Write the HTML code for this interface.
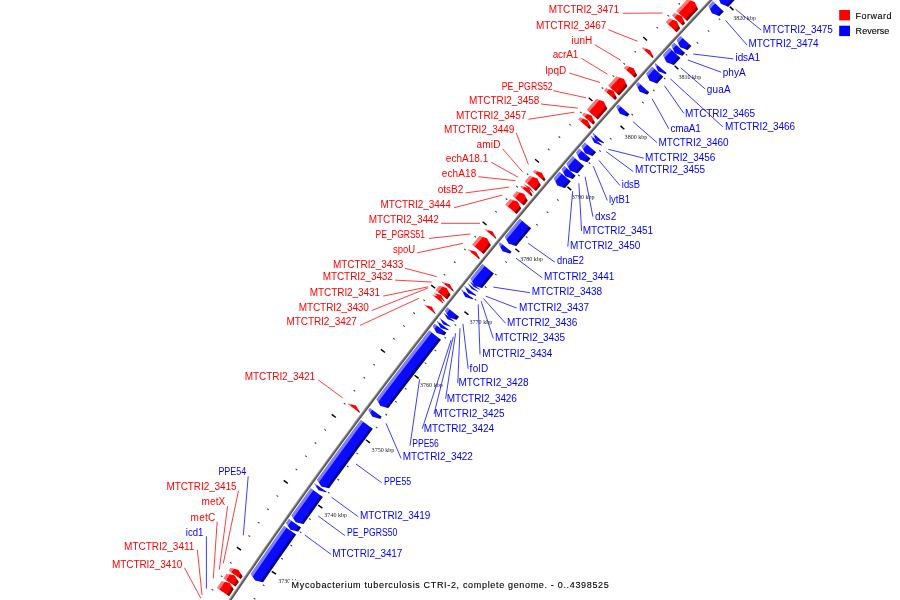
<!DOCTYPE html>
<html><head><meta charset="utf-8"><title>Mycobacterium tuberculosis CTRI-2 map</title>
<style>html,body{margin:0;padding:0;background:#fff;}svg{display:block;}</style></head>
<body>
<svg width="900" height="600" viewBox="0 0 900 600">
<rect width="900" height="600" fill="#fff"/>
<line x1="177.20" y1="644.72" x2="175.53" y2="643.62" stroke="#3a3a3a" stroke-width="1.05"/>
<line x1="210.50" y1="666.51" x2="208.83" y2="665.42" stroke="#3a3a3a" stroke-width="1.05"/>
<line x1="186.16" y1="631.09" x2="184.49" y2="629.99" stroke="#3a3a3a" stroke-width="1.05"/>
<line x1="219.38" y1="653.00" x2="217.71" y2="651.90" stroke="#3a3a3a" stroke-width="1.05"/>
<line x1="195.28" y1="617.58" x2="191.03" y2="614.76" stroke="#000" stroke-width="1.45"/>
<line x1="230.68" y1="641.10" x2="226.43" y2="638.28" stroke="#000" stroke-width="1.45"/>
<line x1="204.20" y1="603.93" x2="202.54" y2="602.82" stroke="#3a3a3a" stroke-width="1.05"/>
<line x1="237.27" y1="626.07" x2="235.61" y2="624.96" stroke="#3a3a3a" stroke-width="1.05"/>
<line x1="213.29" y1="590.40" x2="211.63" y2="589.28" stroke="#3a3a3a" stroke-width="1.05"/>
<line x1="246.29" y1="612.66" x2="244.63" y2="611.54" stroke="#3a3a3a" stroke-width="1.05"/>
<line x1="222.43" y1="576.90" x2="220.78" y2="575.78" stroke="#3a3a3a" stroke-width="1.05"/>
<line x1="255.35" y1="599.27" x2="253.70" y2="598.14" stroke="#3a3a3a" stroke-width="1.05"/>
<line x1="231.62" y1="563.43" x2="229.97" y2="562.30" stroke="#3a3a3a" stroke-width="1.05"/>
<line x1="264.46" y1="585.91" x2="262.81" y2="584.78" stroke="#3a3a3a" stroke-width="1.05"/>
<line x1="240.97" y1="550.08" x2="236.78" y2="547.18" stroke="#000" stroke-width="1.45"/>
<line x1="275.96" y1="574.21" x2="271.76" y2="571.31" stroke="#000" stroke-width="1.45"/>
<line x1="250.13" y1="536.59" x2="248.49" y2="535.45" stroke="#3a3a3a" stroke-width="1.05"/>
<line x1="282.82" y1="559.30" x2="281.17" y2="558.15" stroke="#3a3a3a" stroke-width="1.05"/>
<line x1="259.45" y1="523.21" x2="257.82" y2="522.07" stroke="#3a3a3a" stroke-width="1.05"/>
<line x1="292.06" y1="546.04" x2="290.42" y2="544.89" stroke="#3a3a3a" stroke-width="1.05"/>
<line x1="268.82" y1="509.87" x2="267.19" y2="508.72" stroke="#3a3a3a" stroke-width="1.05"/>
<line x1="301.35" y1="532.81" x2="299.72" y2="531.65" stroke="#3a3a3a" stroke-width="1.05"/>
<line x1="278.24" y1="496.56" x2="276.61" y2="495.41" stroke="#3a3a3a" stroke-width="1.05"/>
<line x1="310.69" y1="519.61" x2="309.06" y2="518.45" stroke="#3a3a3a" stroke-width="1.05"/>
<line x1="287.83" y1="483.38" x2="283.68" y2="480.41" stroke="#000" stroke-width="1.45"/>
<line x1="322.39" y1="508.10" x2="318.24" y2="505.14" stroke="#000" stroke-width="1.45"/>
<line x1="297.21" y1="470.05" x2="295.59" y2="468.88" stroke="#3a3a3a" stroke-width="1.05"/>
<line x1="329.50" y1="493.31" x2="327.88" y2="492.15" stroke="#3a3a3a" stroke-width="1.05"/>
<line x1="306.77" y1="456.84" x2="305.15" y2="455.66" stroke="#3a3a3a" stroke-width="1.05"/>
<line x1="338.98" y1="480.22" x2="337.36" y2="479.04" stroke="#3a3a3a" stroke-width="1.05"/>
<line x1="316.37" y1="443.66" x2="314.75" y2="442.48" stroke="#3a3a3a" stroke-width="1.05"/>
<line x1="348.50" y1="467.15" x2="346.88" y2="465.97" stroke="#3a3a3a" stroke-width="1.05"/>
<line x1="326.01" y1="430.51" x2="324.40" y2="429.33" stroke="#3a3a3a" stroke-width="1.05"/>
<line x1="358.06" y1="454.12" x2="356.45" y2="452.93" stroke="#3a3a3a" stroke-width="1.05"/>
<line x1="335.83" y1="417.49" x2="331.73" y2="414.45" stroke="#000" stroke-width="1.45"/>
<line x1="369.96" y1="442.81" x2="365.86" y2="439.78" stroke="#000" stroke-width="1.45"/>
<line x1="345.44" y1="404.33" x2="343.84" y2="403.13" stroke="#3a3a3a" stroke-width="1.05"/>
<line x1="377.32" y1="428.15" x2="375.72" y2="426.95" stroke="#3a3a3a" stroke-width="1.05"/>
<line x1="355.22" y1="391.28" x2="353.63" y2="390.08" stroke="#3a3a3a" stroke-width="1.05"/>
<line x1="387.02" y1="415.22" x2="385.43" y2="414.01" stroke="#3a3a3a" stroke-width="1.05"/>
<line x1="365.05" y1="378.27" x2="363.46" y2="377.07" stroke="#3a3a3a" stroke-width="1.05"/>
<line x1="396.77" y1="402.32" x2="395.17" y2="401.11" stroke="#3a3a3a" stroke-width="1.05"/>
<line x1="374.92" y1="365.30" x2="373.33" y2="364.08" stroke="#3a3a3a" stroke-width="1.05"/>
<line x1="406.55" y1="389.45" x2="404.97" y2="388.24" stroke="#3a3a3a" stroke-width="1.05"/>
<line x1="384.96" y1="352.45" x2="380.91" y2="349.34" stroke="#000" stroke-width="1.45"/>
<line x1="418.65" y1="378.36" x2="414.60" y2="375.25" stroke="#000" stroke-width="1.45"/>
<line x1="394.80" y1="339.45" x2="393.22" y2="338.23" stroke="#3a3a3a" stroke-width="1.05"/>
<line x1="426.26" y1="363.82" x2="424.68" y2="362.60" stroke="#3a3a3a" stroke-width="1.05"/>
<line x1="404.80" y1="326.58" x2="403.23" y2="325.35" stroke="#3a3a3a" stroke-width="1.05"/>
<line x1="436.18" y1="351.06" x2="434.61" y2="349.83" stroke="#3a3a3a" stroke-width="1.05"/>
<line x1="414.85" y1="313.74" x2="413.28" y2="312.50" stroke="#3a3a3a" stroke-width="1.05"/>
<line x1="446.15" y1="338.33" x2="444.58" y2="337.09" stroke="#3a3a3a" stroke-width="1.05"/>
<line x1="424.95" y1="300.94" x2="423.38" y2="299.70" stroke="#3a3a3a" stroke-width="1.05"/>
<line x1="456.16" y1="325.63" x2="454.59" y2="324.39" stroke="#3a3a3a" stroke-width="1.05"/>
<line x1="435.20" y1="288.26" x2="431.21" y2="285.08" stroke="#000" stroke-width="1.45"/>
<line x1="468.44" y1="314.75" x2="464.45" y2="311.57" stroke="#000" stroke-width="1.45"/>
<line x1="445.27" y1="275.44" x2="443.71" y2="274.18" stroke="#3a3a3a" stroke-width="1.05"/>
<line x1="476.31" y1="300.35" x2="474.75" y2="299.10" stroke="#3a3a3a" stroke-width="1.05"/>
<line x1="455.49" y1="262.74" x2="453.94" y2="261.48" stroke="#3a3a3a" stroke-width="1.05"/>
<line x1="486.45" y1="287.76" x2="484.89" y2="286.50" stroke="#3a3a3a" stroke-width="1.05"/>
<line x1="465.76" y1="250.08" x2="464.21" y2="248.81" stroke="#3a3a3a" stroke-width="1.05"/>
<line x1="496.63" y1="275.20" x2="495.08" y2="273.94" stroke="#3a3a3a" stroke-width="1.05"/>
<line x1="476.08" y1="237.45" x2="474.53" y2="236.18" stroke="#3a3a3a" stroke-width="1.05"/>
<line x1="506.86" y1="262.68" x2="505.31" y2="261.41" stroke="#3a3a3a" stroke-width="1.05"/>
<line x1="486.55" y1="224.95" x2="482.62" y2="221.71" stroke="#000" stroke-width="1.45"/>
<line x1="519.32" y1="252.01" x2="515.39" y2="248.76" stroke="#000" stroke-width="1.45"/>
<line x1="496.83" y1="212.30" x2="495.30" y2="211.03" stroke="#3a3a3a" stroke-width="1.05"/>
<line x1="527.44" y1="237.75" x2="525.90" y2="236.47" stroke="#3a3a3a" stroke-width="1.05"/>
<line x1="507.28" y1="199.79" x2="505.74" y2="198.50" stroke="#3a3a3a" stroke-width="1.05"/>
<line x1="537.80" y1="225.33" x2="536.26" y2="224.05" stroke="#3a3a3a" stroke-width="1.05"/>
<line x1="517.77" y1="187.30" x2="516.24" y2="186.01" stroke="#3a3a3a" stroke-width="1.05"/>
<line x1="548.19" y1="212.96" x2="546.67" y2="211.67" stroke="#3a3a3a" stroke-width="1.05"/>
<line x1="528.30" y1="174.86" x2="526.77" y2="173.56" stroke="#3a3a3a" stroke-width="1.05"/>
<line x1="558.64" y1="200.61" x2="557.11" y2="199.32" stroke="#3a3a3a" stroke-width="1.05"/>
<line x1="538.98" y1="162.54" x2="535.11" y2="159.23" stroke="#000" stroke-width="1.45"/>
<line x1="571.29" y1="190.16" x2="567.41" y2="186.85" stroke="#000" stroke-width="1.45"/>
<line x1="549.48" y1="150.07" x2="547.97" y2="148.77" stroke="#3a3a3a" stroke-width="1.05"/>
<line x1="579.65" y1="176.04" x2="578.13" y2="174.73" stroke="#3a3a3a" stroke-width="1.05"/>
<line x1="560.14" y1="137.74" x2="558.63" y2="136.43" stroke="#3a3a3a" stroke-width="1.05"/>
<line x1="590.21" y1="163.81" x2="588.70" y2="162.50" stroke="#3a3a3a" stroke-width="1.05"/>
<line x1="570.84" y1="125.44" x2="569.34" y2="124.12" stroke="#3a3a3a" stroke-width="1.05"/>
<line x1="600.83" y1="151.61" x2="599.32" y2="150.30" stroke="#3a3a3a" stroke-width="1.05"/>
<line x1="581.59" y1="113.17" x2="580.09" y2="111.85" stroke="#3a3a3a" stroke-width="1.05"/>
<line x1="611.48" y1="139.45" x2="609.98" y2="138.13" stroke="#3a3a3a" stroke-width="1.05"/>
<line x1="592.49" y1="101.05" x2="588.67" y2="97.67" stroke="#000" stroke-width="1.45"/>
<line x1="624.31" y1="129.22" x2="620.49" y2="125.84" stroke="#000" stroke-width="1.45"/>
<line x1="603.20" y1="88.76" x2="601.71" y2="87.43" stroke="#3a3a3a" stroke-width="1.05"/>
<line x1="632.91" y1="115.24" x2="631.42" y2="113.91" stroke="#3a3a3a" stroke-width="1.05"/>
<line x1="614.07" y1="76.61" x2="612.58" y2="75.27" stroke="#3a3a3a" stroke-width="1.05"/>
<line x1="643.69" y1="103.20" x2="642.20" y2="101.86" stroke="#3a3a3a" stroke-width="1.05"/>
<line x1="624.98" y1="64.49" x2="623.50" y2="63.15" stroke="#3a3a3a" stroke-width="1.05"/>
<line x1="654.51" y1="91.18" x2="653.03" y2="89.84" stroke="#3a3a3a" stroke-width="1.05"/>
<line x1="635.94" y1="52.42" x2="634.46" y2="51.07" stroke="#3a3a3a" stroke-width="1.05"/>
<line x1="665.37" y1="79.21" x2="663.89" y2="77.86" stroke="#3a3a3a" stroke-width="1.05"/>
<line x1="647.04" y1="40.48" x2="643.28" y2="37.04" stroke="#000" stroke-width="1.45"/>
<line x1="678.37" y1="69.20" x2="674.61" y2="65.75" stroke="#000" stroke-width="1.45"/>
<line x1="657.97" y1="28.38" x2="656.50" y2="27.03" stroke="#3a3a3a" stroke-width="1.05"/>
<line x1="687.22" y1="55.38" x2="685.75" y2="54.02" stroke="#3a3a3a" stroke-width="1.05"/>
<line x1="669.05" y1="16.42" x2="667.58" y2="15.06" stroke="#3a3a3a" stroke-width="1.05"/>
<line x1="698.20" y1="43.52" x2="696.74" y2="42.15" stroke="#3a3a3a" stroke-width="1.05"/>
<line x1="680.17" y1="4.50" x2="678.71" y2="3.13" stroke="#3a3a3a" stroke-width="1.05"/>
<line x1="709.23" y1="31.69" x2="707.77" y2="30.33" stroke="#3a3a3a" stroke-width="1.05"/>
<line x1="691.33" y1="-7.39" x2="689.87" y2="-8.76" stroke="#3a3a3a" stroke-width="1.05"/>
<line x1="720.29" y1="19.91" x2="718.84" y2="18.54" stroke="#3a3a3a" stroke-width="1.05"/>
<line x1="702.64" y1="-19.13" x2="698.94" y2="-22.64" stroke="#000" stroke-width="1.45"/>
<line x1="733.47" y1="10.13" x2="729.77" y2="6.61" stroke="#000" stroke-width="1.45"/>
<line x1="713.77" y1="-31.04" x2="712.33" y2="-32.42" stroke="#3a3a3a" stroke-width="1.05"/>
<line x1="742.55" y1="-3.54" x2="741.10" y2="-4.93" stroke="#3a3a3a" stroke-width="1.05"/>
<line x1="725.06" y1="-42.81" x2="723.62" y2="-44.19" stroke="#3a3a3a" stroke-width="1.05"/>
<line x1="753.74" y1="-15.21" x2="752.30" y2="-16.60" stroke="#3a3a3a" stroke-width="1.05"/>
<line x1="736.38" y1="-54.54" x2="734.95" y2="-55.93" stroke="#3a3a3a" stroke-width="1.05"/>
<line x1="764.97" y1="-26.84" x2="763.53" y2="-28.23" stroke="#3a3a3a" stroke-width="1.05"/>
<line x1="747.75" y1="-66.23" x2="746.31" y2="-67.62" stroke="#3a3a3a" stroke-width="1.05"/>
<line x1="776.24" y1="-38.43" x2="774.80" y2="-39.83" stroke="#3a3a3a" stroke-width="1.05"/>
<g font-family="'Liberation Serif', serif" font-size="6px" fill="#222">
<text x="233.2" y="650.1" textLength="22.8" lengthAdjust="spacingAndGlyphs">3720 kbp</text>
<text x="278.2" y="583.2" textLength="22.8" lengthAdjust="spacingAndGlyphs">3730 kbp</text>
<text x="324.3" y="517.0" textLength="22.8" lengthAdjust="spacingAndGlyphs">3740 kbp</text>
<text x="371.6" y="451.7" textLength="22.8" lengthAdjust="spacingAndGlyphs">3750 kbp</text>
<text x="420.0" y="387.2" textLength="22.8" lengthAdjust="spacingAndGlyphs">3760 kbp</text>
<text x="469.5" y="323.6" textLength="22.8" lengthAdjust="spacingAndGlyphs">3770 kbp</text>
<text x="520.2" y="260.8" textLength="22.8" lengthAdjust="spacingAndGlyphs">3780 kbp</text>
<text x="571.8" y="199.2" textLength="22.8" lengthAdjust="spacingAndGlyphs">3790 kbp</text>
<text x="624.6" y="138.5" textLength="22.8" lengthAdjust="spacingAndGlyphs">3800 kbp</text>
<text x="678.4" y="78.7" textLength="22.8" lengthAdjust="spacingAndGlyphs">3810 kbp</text>
<text x="733.2" y="19.9" textLength="22.8" lengthAdjust="spacingAndGlyphs">3820 kbp</text>
</g>
<polyline points="193.39,655.32 197.85,648.53 202.31,641.75 206.78,634.97 211.27,628.21 215.77,621.45 220.28,614.70 224.80,607.96 229.34,601.22 233.88,594.49 238.44,587.78 243.01,581.06 247.59,574.36 252.18,567.67 256.78,560.98 261.39,554.30 266.02,547.63 270.66,540.96 275.31,534.31 279.97,527.66 284.64,521.02 289.32,514.39 294.02,507.77 298.72,501.15 303.44,494.55 308.17,487.95 312.91,481.36 317.66,474.78 322.43,468.20 327.20,461.64 331.99,455.08 336.79,448.53 341.59,441.99 346.41,435.46 351.25,428.93 356.09,422.42 360.94,415.91 365.81,409.41 370.68,402.92 375.57,396.44 380.47,389.96 385.38,383.50 390.30,377.04 395.23,370.59 400.18,364.15 405.13,357.72 410.10,351.30 415.07,344.88 420.06,338.48 425.06,332.08 430.07,325.69 435.09,319.31 440.12,312.94 445.16,306.58 450.22,300.23 455.28,293.88 460.36,287.55 465.44,281.22 470.54,274.90 475.65,268.59 480.77,262.29 485.90,256.00 491.04,249.72 496.19,243.44 501.36,237.18 506.53,230.92 511.71,224.67 516.91,218.44 522.12,212.21 527.33,205.99 532.56,199.77 537.80,193.57 543.05,187.38 548.31,181.19 553.58,175.02 558.86,168.85 564.15,162.70 569.45,156.55 574.76,150.41 580.09,144.28 585.42,138.16 590.77,132.05 596.12,125.95 601.49,119.86 606.86,113.77 612.25,107.70 617.65,101.63 623.05,95.58 628.47,89.53 633.90,83.50 639.34,77.47 644.79,71.45 650.25,65.44 655.72,59.45 661.20,53.46 666.69,47.48 672.19,41.51 677.70,35.55 683.22,29.59 688.75,23.65 694.30,17.72 699.85,11.80 705.41,5.88 710.98,-0.02 716.57,-5.91 722.16,-11.80 727.76,-17.67 733.38,-23.54 739.00,-29.39 744.64,-35.24 750.28,-41.07 755.93,-46.90 761.60,-52.71 767.27,-58.52" fill="none" stroke="#777" stroke-width="2.7"/>
<polyline points="192.56,654.77 197.01,647.98 201.47,641.19 205.95,634.42 210.44,627.65 214.94,620.89 219.45,614.14 223.97,607.40 228.51,600.66 233.05,593.93 237.61,587.21 242.18,580.50 246.76,573.80 251.35,567.10 255.96,560.41 260.57,553.73 265.20,547.06 269.84,540.39 274.49,533.74 279.15,527.09 283.82,520.45 288.51,513.81 293.20,507.19 297.91,500.57 302.63,493.97 307.36,487.37 312.10,480.77 316.85,474.19 321.62,467.62 326.39,461.05 331.18,454.49 335.98,447.94 340.79,441.40 345.61,434.86 350.44,428.34 355.29,421.82 360.14,415.31 365.01,408.81 369.88,402.32 374.77,395.83 379.67,389.36 384.58,382.89 389.51,376.43 394.44,369.98 399.38,363.54 404.34,357.11 409.31,350.69 414.28,344.27 419.27,337.86 424.27,331.47 429.28,325.08 434.30,318.70 439.34,312.32 444.38,305.96 449.44,299.61 454.50,293.26 459.58,286.92 464.67,280.59 469.76,274.27 474.87,267.96 479.99,261.66 485.13,255.37 490.27,249.08 495.42,242.81 500.58,236.54 505.76,230.28 510.95,224.03 516.14,217.80 521.35,211.56 526.57,205.34 531.79,199.13 537.03,192.93 542.28,186.73 547.54,180.55 552.82,174.37 558.10,168.20 563.39,162.04 568.69,155.90 574.01,149.76 579.33,143.63 584.67,137.50 590.01,131.39 595.37,125.29 600.74,119.19 606.11,113.11 611.50,107.04 616.90,100.97 622.31,94.91 627.73,88.87 633.16,82.83 638.60,76.80 644.05,70.78 649.51,64.77 654.98,58.77 660.46,52.78 665.95,46.80 671.45,40.83 676.97,34.87 682.49,28.91 688.02,22.97 693.57,17.04 699.12,11.11 704.68,5.20 710.26,-0.71 715.84,-6.60 721.44,-12.49 727.04,-18.36 732.66,-24.23 738.28,-30.08 743.92,-35.93 749.56,-41.77 755.22,-47.60 760.88,-53.41 766.56,-59.22" fill="none" stroke="#fff" stroke-opacity="0.3" stroke-width="0.9"/>
<polyline points="193.90,655.64 198.35,648.86 202.81,642.08 207.28,635.30 211.77,628.54 216.27,621.78 220.78,615.03 225.30,608.29 229.83,601.56 234.38,594.83 238.93,588.11 243.50,581.40 248.08,574.70 252.67,568.01 257.27,561.32 261.89,554.64 266.51,547.97 271.15,541.31 275.80,534.65 280.46,528.01 285.13,521.37 289.81,514.74 294.51,508.12 299.21,501.50 303.93,494.90 308.66,488.30 313.40,481.71 318.15,475.13 322.91,468.55 327.69,461.99 332.47,455.43 337.27,448.89 342.08,442.35 346.90,435.81 351.73,429.29 356.57,422.77 361.42,416.27 366.29,409.77 371.16,403.28 376.05,396.80 380.95,390.33 385.86,383.86 390.78,377.41 395.71,370.96 400.65,364.52 405.61,358.09 410.57,351.67 415.55,345.25 420.53,338.85 425.53,332.45 430.54,326.07 435.56,319.69 440.59,313.32 445.63,306.95 450.69,300.60 455.75,294.26 460.83,287.92 465.91,281.60 471.01,275.28 476.12,268.97 481.24,262.67 486.37,256.38 491.51,250.10 496.66,243.82 501.82,237.56 506.99,231.30 512.18,225.06 517.37,218.82 522.58,212.59 527.79,206.37 533.02,200.16 538.26,193.96 543.50,187.77 548.76,181.58 554.03,175.41 559.31,169.24 564.60,163.09 569.90,156.94 575.22,150.80 580.54,144.68 585.87,138.56 591.22,132.45 596.57,126.34 601.94,120.25 607.31,114.17 612.70,108.10 618.09,102.03 623.50,95.98 628.92,89.93 634.35,83.90 639.78,77.87 645.23,71.86 650.69,65.85 656.16,59.85 661.64,53.86 667.13,47.88 672.63,41.91 678.14,35.95 683.66,30.00 689.19,24.06 694.73,18.13 700.29,12.21 705.85,6.30 711.42,0.39 717.00,-5.50 722.60,-11.38 728.20,-17.26 733.81,-23.12 739.43,-28.98 745.07,-34.82 750.71,-40.65 756.36,-46.48 762.03,-52.30 767.70,-58.10" fill="none" stroke="#000" stroke-opacity="0.3" stroke-width="1.1"/>
<polygon points="216.98,587.97 221.60,581.16 229.33,582.77 233.68,589.35 229.08,596.15" fill="#ff0000"/>
<polygon points="216.98,587.97 221.60,581.16 224.88,581.84 219.55,589.71" fill="#fff" fill-opacity="0.47"/>
<polygon points="232.07,586.92 233.68,589.35 229.08,596.15 226.84,594.64" fill="#000" fill-opacity="0.45"/>
<polygon points="223.47,578.40 226.68,573.68 234.41,575.30 238.75,581.89 235.55,586.60" fill="#ff0000"/>
<polygon points="223.47,578.40 226.68,573.68 229.96,574.36 226.04,580.14" fill="#fff" fill-opacity="0.47"/>
<polygon points="237.14,579.46 238.75,581.89 235.55,586.60 233.32,585.08" fill="#000" fill-opacity="0.45"/>
<polygon points="228.74,570.65 230.54,568.02 238.26,569.66 242.59,576.26 240.81,578.88" fill="#ff0000"/>
<polygon points="228.74,570.65 230.54,568.02 233.82,568.71 231.31,572.40" fill="#fff" fill-opacity="0.47"/>
<polygon points="240.99,573.82 242.59,576.26 240.81,578.88 238.58,577.35" fill="#000" fill-opacity="0.45"/>
<polygon points="347.88,403.91 348.22,403.45 355.87,405.41 359.91,412.19 359.57,412.65" fill="#ff0000"/>
<polygon points="347.88,403.91 348.22,403.45 351.47,404.28 350.36,405.76" fill="#fff" fill-opacity="0.47"/>
<polygon points="358.42,409.69 359.91,412.19 359.57,412.65 357.41,411.04" fill="#000" fill-opacity="0.45"/>
<polygon points="424.01,304.87 424.16,304.67 431.75,306.84 435.62,313.72 435.46,313.92" fill="#ff0000"/>
<polygon points="424.01,304.87 424.16,304.67 427.38,305.59 426.44,306.79" fill="#fff" fill-opacity="0.47"/>
<polygon points="434.19,311.18 435.62,313.72 435.46,313.92 433.34,312.25" fill="#000" fill-opacity="0.45"/>
<polygon points="432.00,294.78 432.10,294.65 439.69,296.83 443.54,303.73 443.43,303.86" fill="#ff0000"/>
<polygon points="432.00,294.78 432.10,294.65 435.33,295.57 434.43,296.71" fill="#fff" fill-opacity="0.47"/>
<polygon points="442.11,301.18 443.54,303.73 443.43,303.86 441.32,302.18" fill="#000" fill-opacity="0.45"/>
<polygon points="433.47,292.93 441.11,295.05 444.90,302.01" fill="#ff0000"/>
<polygon points="433.47,292.93 436.72,293.83 435.90,294.86" fill="#fff" fill-opacity="0.47"/>
<polygon points="443.50,299.44 444.90,302.01 442.78,300.33" fill="#000" fill-opacity="0.45"/>
<polygon points="435.60,290.25 439.11,285.85 446.69,288.06 450.52,294.96 447.02,299.34" fill="#ff0000"/>
<polygon points="435.60,290.25 439.11,285.85 442.33,286.79 438.03,292.18" fill="#fff" fill-opacity="0.47"/>
<polygon points="449.10,292.41 450.52,294.96 447.02,299.34 444.91,297.66" fill="#000" fill-opacity="0.45"/>
<polygon points="441.91,282.35 442.21,281.97 449.79,284.18 453.61,291.09 453.31,291.47" fill="#ff0000"/>
<polygon points="441.91,282.35 442.21,281.97 445.43,282.91 444.33,284.29" fill="#fff" fill-opacity="0.47"/>
<polygon points="452.20,288.53 453.61,291.09 453.31,291.47 451.20,289.78" fill="#000" fill-opacity="0.45"/>
<polygon points="468.06,249.95 468.47,249.44 476.03,251.72 479.79,258.66 479.38,259.17" fill="#ff0000"/>
<polygon points="468.06,249.95 468.47,249.44 471.68,250.41 470.46,251.91" fill="#fff" fill-opacity="0.47"/>
<polygon points="478.40,256.10 479.79,258.66 479.38,259.17 477.29,257.46" fill="#000" fill-opacity="0.45"/>
<polygon points="472.33,244.71 479.51,235.94 487.06,238.25 490.80,245.21 483.64,253.94" fill="#ff0000"/>
<polygon points="472.33,244.71 479.51,235.94 482.72,236.92 474.73,246.67" fill="#fff" fill-opacity="0.47"/>
<polygon points="489.42,242.63 490.80,245.21 483.64,253.94 481.55,252.24" fill="#000" fill-opacity="0.45"/>
<polygon points="484.74,229.59 485.05,229.21 492.60,231.53 496.32,238.49 496.01,238.87" fill="#ff0000"/>
<polygon points="484.74,229.59 485.05,229.21 488.26,230.19 487.13,231.56" fill="#fff" fill-opacity="0.47"/>
<polygon points="494.94,235.92 496.32,238.49 496.01,238.87 493.92,237.15" fill="#000" fill-opacity="0.45"/>
<polygon points="505.39,204.69 510.00,199.19 517.52,201.57 521.19,208.56 516.60,214.05" fill="#ff0000"/>
<polygon points="505.39,204.69 510.00,199.19 513.19,200.20 507.77,206.68" fill="#fff" fill-opacity="0.47"/>
<polygon points="519.83,205.98 521.19,208.56 516.60,214.05 514.53,212.32" fill="#000" fill-opacity="0.45"/>
<polygon points="512.67,196.01 516.50,191.45 524.02,193.85 527.67,200.85 523.85,205.39" fill="#ff0000"/>
<polygon points="512.67,196.01 516.50,191.45 519.69,192.47 515.04,198.00" fill="#fff" fill-opacity="0.47"/>
<polygon points="526.32,198.26 527.67,200.85 523.85,205.39 521.78,203.66" fill="#000" fill-opacity="0.45"/>
<polygon points="520.48,186.72 521.33,185.72 528.85,188.13 532.48,195.14 531.64,196.13" fill="#ff0000"/>
<polygon points="520.48,186.72 521.33,185.72 524.52,186.74 522.85,188.72" fill="#fff" fill-opacity="0.47"/>
<polygon points="531.14,192.55 532.48,195.14 531.64,196.13 529.58,194.39" fill="#000" fill-opacity="0.45"/>
<polygon points="522.90,183.85 529.63,187.20 534.05,193.28" fill="#ff0000"/>
<polygon points="522.90,183.85 525.76,185.27 525.27,185.85" fill="#fff" fill-opacity="0.47"/>
<polygon points="532.42,191.03 534.05,193.28 531.99,191.53" fill="#000" fill-opacity="0.45"/>
<polygon points="524.80,181.61 529.65,175.89 537.16,178.32 540.78,185.34 535.94,191.04" fill="#ff0000"/>
<polygon points="524.80,181.61 529.65,175.89 532.84,176.92 527.16,183.62" fill="#fff" fill-opacity="0.47"/>
<polygon points="539.44,182.75 540.78,185.34 535.94,191.04 533.88,189.30" fill="#000" fill-opacity="0.45"/>
<polygon points="533.07,171.86 534.34,170.37 541.85,172.81 545.46,179.83 544.19,181.32" fill="#ff0000"/>
<polygon points="533.07,171.86 534.34,170.37 537.53,171.40 535.44,173.87" fill="#fff" fill-opacity="0.47"/>
<polygon points="544.12,177.24 545.46,179.83 544.19,181.32 542.14,179.57" fill="#000" fill-opacity="0.45"/>
<polygon points="578.40,119.38 579.96,117.60 587.43,120.15 590.94,127.23 589.38,129.00" fill="#ff0000"/>
<polygon points="578.40,119.38 579.96,117.60 583.14,118.68 580.73,121.42" fill="#fff" fill-opacity="0.47"/>
<polygon points="589.64,124.61 590.94,127.23 589.38,129.00 587.35,127.22" fill="#000" fill-opacity="0.45"/>
<polygon points="582.27,114.97 584.00,113.01 591.46,115.57 594.96,122.65 593.24,124.61" fill="#ff0000"/>
<polygon points="582.27,114.97 584.00,113.01 587.17,114.10 584.60,117.01" fill="#fff" fill-opacity="0.47"/>
<polygon points="593.67,120.03 594.96,122.65 593.24,124.61 591.21,122.82" fill="#000" fill-opacity="0.45"/>
<polygon points="586.85,109.77 596.35,99.02 603.81,101.62 607.27,108.71 597.80,119.42" fill="#ff0000"/>
<polygon points="586.85,109.77 596.35,99.02 599.52,100.12 589.17,111.82" fill="#fff" fill-opacity="0.47"/>
<polygon points="605.99,106.09 607.27,108.71 597.80,119.42 595.78,117.64" fill="#000" fill-opacity="0.45"/>
<polygon points="604.20,90.19 605.94,88.24 613.39,90.86 616.83,97.97 615.10,99.91" fill="#ff0000"/>
<polygon points="604.20,90.19 605.94,88.24 609.10,89.36 606.51,92.26" fill="#fff" fill-opacity="0.47"/>
<polygon points="615.56,95.34 616.83,97.97 615.10,99.91 613.08,98.11" fill="#000" fill-opacity="0.45"/>
<polygon points="608.16,85.76 616.54,76.41 623.98,79.05 627.40,86.16 619.05,95.48" fill="#ff0000"/>
<polygon points="608.16,85.76 616.54,76.41 619.70,77.53 610.47,87.82" fill="#fff" fill-opacity="0.47"/>
<polygon points="626.13,83.53 627.40,86.16 619.05,95.48 617.03,93.69" fill="#000" fill-opacity="0.45"/>
<polygon points="624.06,68.05 626.25,65.63 633.68,68.30 637.08,75.42 634.90,77.84" fill="#ff0000"/>
<polygon points="624.06,68.05 626.25,65.63 629.40,66.76 626.36,70.13" fill="#fff" fill-opacity="0.47"/>
<polygon points="635.82,72.79 637.08,75.42 634.90,77.84 632.89,76.03" fill="#000" fill-opacity="0.45"/>
<polygon points="642.03,48.26 642.74,47.48 650.16,50.18 653.52,57.33 652.81,58.11" fill="#ff0000"/>
<polygon points="642.03,48.26 642.74,47.48 645.89,48.63 644.32,50.35" fill="#fff" fill-opacity="0.47"/>
<polygon points="652.28,54.68 653.52,57.33 652.81,58.11 650.81,56.29" fill="#000" fill-opacity="0.45"/>
<polygon points="665.91,22.30 669.41,18.53 676.80,21.30 680.11,28.47 676.62,32.22" fill="#ff0000"/>
<polygon points="665.91,22.30 669.41,18.53 672.55,19.70 668.19,24.40" fill="#fff" fill-opacity="0.47"/>
<polygon points="678.88,25.82 680.11,28.47 676.62,32.22 674.64,30.39" fill="#000" fill-opacity="0.45"/>
<polygon points="672.13,15.61 674.29,13.28 681.69,16.06 684.98,23.23 682.81,25.55" fill="#ff0000"/>
<polygon points="672.13,15.61 674.29,13.28 677.43,14.46 674.40,17.72" fill="#fff" fill-opacity="0.47"/>
<polygon points="683.76,20.58 684.98,23.23 682.81,25.55 680.84,23.72" fill="#000" fill-opacity="0.45"/>
<polygon points="676.46,10.96 687.38,-0.70 694.76,2.10 698.02,9.29 687.13,20.92" fill="#ff0000"/>
<polygon points="676.46,10.96 687.38,-0.70 690.51,0.49 678.73,13.07" fill="#fff" fill-opacity="0.47"/>
<polygon points="696.81,6.63 698.02,9.29 687.13,20.92 685.16,19.08" fill="#000" fill-opacity="0.45"/>
<polygon points="283.99,526.03 275.63,537.95 267.30,549.90 259.01,561.88 250.76,573.88 255.17,580.54 262.97,582.25 271.19,570.28 279.46,558.34 287.76,546.43 296.09,534.54" fill="#0a0aff"/>
<polygon points="283.99,526.03 275.63,537.95 267.30,549.90 259.01,561.88 250.76,573.88 252.61,576.67 261.03,564.42 269.49,552.19 277.99,539.99 286.53,527.81" fill="#fff" fill-opacity="0.47"/>
<polygon points="260.12,581.62 262.97,582.25 271.19,570.28 279.46,558.34 287.76,546.43 296.09,534.54 293.89,532.99 285.39,545.11 276.93,557.25 268.51,569.43" fill="#000" fill-opacity="0.45"/>
<polygon points="288.90,519.06 286.09,523.04 290.42,529.75 298.19,531.57 300.99,527.60" fill="#0a0aff"/>
<polygon points="288.90,519.06 286.09,523.04 287.90,525.86 291.43,520.85" fill="#fff" fill-opacity="0.47"/>
<polygon points="295.35,530.91 298.19,531.57 300.99,527.60 298.78,526.04" fill="#000" fill-opacity="0.45"/>
<polygon points="310.79,488.33 301.08,501.89 291.43,515.49 295.74,522.21 303.51,524.04 313.13,510.48 322.81,496.97" fill="#0a0aff"/>
<polygon points="310.79,488.33 301.08,501.89 291.43,515.49 293.23,518.30 303.24,504.20 313.31,490.14" fill="#fff" fill-opacity="0.47"/>
<polygon points="300.67,523.37 303.51,524.04 313.13,510.48 322.81,496.97 320.62,495.39 310.62,509.36" fill="#000" fill-opacity="0.45"/>
<polygon points="314.49,483.19 314.20,483.59 318.46,490.35 326.21,492.24 326.50,491.84" fill="#0a0aff"/>
<polygon points="314.49,483.19 314.20,483.59 315.98,486.42 317.00,485.01" fill="#fff" fill-opacity="0.47"/>
<polygon points="323.38,491.55 326.21,492.24 326.50,491.84 324.30,490.27" fill="#000" fill-opacity="0.45"/>
<polygon points="360.88,419.92 353.51,429.82 346.17,439.75 338.85,449.69 331.55,459.66 324.29,469.64 317.05,479.64 321.30,486.40 329.05,488.31 336.27,478.33 343.51,468.38 350.78,458.45 358.07,448.54 365.40,438.64 372.74,428.77" fill="#0a0aff"/>
<polygon points="360.88,419.92 353.51,429.82 346.17,439.75 338.85,449.69 331.55,459.66 324.29,469.64 317.05,479.64 318.83,482.47 326.18,472.31 333.57,462.16 340.98,452.03 348.41,441.93 355.88,431.84 363.37,421.77" fill="#fff" fill-opacity="0.47"/>
<polygon points="326.22,487.61 329.05,488.31 336.27,478.33 343.51,468.38 350.78,458.45 358.07,448.54 365.40,438.64 372.74,428.77 370.58,427.15 363.12,437.18 355.69,447.23 348.28,457.29 340.90,467.38 333.55,477.48" fill="#000" fill-opacity="0.45"/>
<polygon points="369.83,407.96 368.37,409.91 372.49,416.75 380.21,418.80 381.66,416.85" fill="#0a0aff"/>
<polygon points="369.83,407.96 368.37,409.91 370.09,412.78 372.31,409.83" fill="#fff" fill-opacity="0.47"/>
<polygon points="377.39,418.05 380.21,418.80 381.66,416.85 379.51,415.23" fill="#000" fill-opacity="0.45"/>
<polygon points="429.21,330.59 421.60,340.33 414.01,350.08 406.45,359.86 398.92,369.65 391.41,379.46 383.92,389.30 376.47,399.15 380.57,406.00 388.28,408.07 395.71,398.25 403.17,388.44 410.66,378.66 418.17,368.90 425.71,359.15 433.27,349.43 440.86,339.73" fill="#0a0aff"/>
<polygon points="429.21,330.59 421.60,340.33 414.01,350.08 406.45,359.86 398.92,369.65 391.41,379.46 383.92,389.30 376.47,399.15 378.18,402.02 385.74,392.03 393.33,382.06 400.94,372.11 408.58,362.18 416.24,352.27 423.93,342.38 431.65,332.51" fill="#fff" fill-opacity="0.47"/>
<polygon points="385.47,407.31 388.28,408.07 395.71,398.25 403.17,388.44 410.66,378.66 418.17,368.90 425.71,359.15 433.27,349.43 440.86,339.73 438.73,338.06 431.04,347.89 423.38,357.74 415.75,367.62 408.14,377.51 400.55,387.42 393.00,397.36" fill="#000" fill-opacity="0.45"/>
<polygon points="434.63,323.70 432.72,326.13 436.68,333.06 444.35,335.27 446.25,332.86" fill="#0a0aff"/>
<polygon points="434.63,323.70 432.72,326.13 434.38,329.03 437.06,325.62" fill="#fff" fill-opacity="0.47"/>
<polygon points="441.55,334.46 444.35,335.27 446.25,332.86 444.13,331.19" fill="#000" fill-opacity="0.45"/>
<polygon points="437.04,320.64 436.78,320.96 440.74,327.90 448.40,330.13 448.66,329.81" fill="#0a0aff"/>
<polygon points="437.04,320.64 436.78,320.96 438.44,323.87 439.47,322.56" fill="#fff" fill-opacity="0.47"/>
<polygon points="445.61,329.31 448.40,330.13 448.66,329.81 446.54,328.13" fill="#000" fill-opacity="0.45"/>
<polygon points="439.40,317.65 443.45,324.46 451.01,326.82" fill="#0a0aff"/>
<polygon points="439.40,317.65 441.09,320.50 441.83,319.57" fill="#fff" fill-opacity="0.47"/>
<polygon points="448.25,325.96 451.01,326.82 448.89,325.15" fill="#000" fill-opacity="0.45"/>
<polygon points="443.37,312.62 447.62,319.18 454.98,321.81" fill="#0a0aff"/>
<polygon points="443.37,312.62 445.15,315.37 445.80,314.55" fill="#fff" fill-opacity="0.47"/>
<polygon points="452.29,320.85 454.98,321.81 452.86,320.13" fill="#000" fill-opacity="0.45"/>
<polygon points="447.36,307.60 444.93,310.65 448.87,317.60 456.53,319.85 458.95,316.80" fill="#0a0aff"/>
<polygon points="447.36,307.60 444.93,310.65 446.58,313.56 449.79,309.53" fill="#fff" fill-opacity="0.47"/>
<polygon points="453.74,319.02 456.53,319.85 458.95,316.80 456.83,315.12" fill="#000" fill-opacity="0.45"/>
<polygon points="461.78,289.52 461.43,289.97 465.33,296.94 472.97,299.23 473.33,298.79" fill="#0a0aff"/>
<polygon points="461.78,289.52 461.43,289.97 463.06,292.89 464.20,291.46" fill="#fff" fill-opacity="0.47"/>
<polygon points="470.18,298.39 472.97,299.23 473.33,298.79 471.22,297.10" fill="#000" fill-opacity="0.45"/>
<polygon points="464.68,285.92 464.32,286.36 468.22,293.33 475.86,295.64 476.22,295.19" fill="#0a0aff"/>
<polygon points="464.68,285.92 464.32,286.36 465.95,289.28 467.10,287.86" fill="#fff" fill-opacity="0.47"/>
<polygon points="473.07,294.80 475.86,295.64 476.22,295.19 474.11,293.50" fill="#000" fill-opacity="0.45"/>
<polygon points="467.17,282.82 471.72,288.98 478.70,292.10" fill="#0a0aff"/>
<polygon points="467.17,282.82 469.08,285.40 469.59,284.77" fill="#fff" fill-opacity="0.47"/>
<polygon points="476.15,290.96 478.70,292.10 476.60,290.41" fill="#000" fill-opacity="0.45"/>
<polygon points="468.96,280.61 473.55,286.71 480.48,289.90" fill="#0a0aff"/>
<polygon points="468.96,280.61 470.88,283.16 471.37,282.56" fill="#fff" fill-opacity="0.47"/>
<polygon points="477.95,288.73 480.48,289.90 478.37,288.20" fill="#000" fill-opacity="0.45"/>
<polygon points="482.34,264.09 470.53,278.65 474.41,285.63 482.05,287.95 493.82,273.43" fill="#0a0aff"/>
<polygon points="482.34,264.09 470.53,278.65 472.16,281.58 484.74,266.05" fill="#fff" fill-opacity="0.47"/>
<polygon points="479.26,287.10 482.05,287.95 493.82,273.43 491.72,271.73" fill="#000" fill-opacity="0.45"/>
<polygon points="500.07,242.43 498.68,244.12 502.49,251.14 510.10,253.53 511.49,251.84" fill="#0a0aff"/>
<polygon points="500.07,242.43 498.68,244.12 500.27,247.06 502.46,244.40" fill="#fff" fill-opacity="0.47"/>
<polygon points="507.33,252.66 510.10,253.53 511.49,251.84 509.41,250.12" fill="#000" fill-opacity="0.45"/>
<polygon points="519.75,218.70 504.82,236.67 508.62,243.70 516.23,246.10 531.11,228.18" fill="#0a0aff"/>
<polygon points="519.75,218.70 504.82,236.67 506.41,239.62 514.26,230.14 522.13,220.68" fill="#fff" fill-opacity="0.47"/>
<polygon points="513.45,245.22 516.23,246.10 531.11,228.18 529.04,226.45 521.23,235.83" fill="#000" fill-opacity="0.45"/>
<polygon points="559.48,171.74 553.73,178.46 557.41,185.55 564.98,188.07 570.71,181.37" fill="#0a0aff"/>
<polygon points="559.48,171.74 553.73,178.46 555.27,181.43 561.83,173.76" fill="#fff" fill-opacity="0.47"/>
<polygon points="562.22,187.15 564.98,188.07 570.71,181.37 568.66,179.61" fill="#000" fill-opacity="0.45"/>
<polygon points="564.34,166.08 561.59,169.28 565.25,176.37 572.82,178.92 575.56,175.73" fill="#0a0aff"/>
<polygon points="564.34,166.08 561.59,169.28 563.12,172.25 566.69,168.10" fill="#fff" fill-opacity="0.47"/>
<polygon points="570.06,177.99 572.82,178.92 575.56,175.73 573.52,173.97" fill="#000" fill-opacity="0.45"/>
<polygon points="572.77,156.31 566.40,163.68 570.06,170.78 577.62,173.34 583.96,165.99" fill="#0a0aff"/>
<polygon points="572.77,156.31 566.40,163.68 567.93,166.65 575.11,158.33" fill="#fff" fill-opacity="0.47"/>
<polygon points="574.86,172.40 577.62,173.34 583.96,165.99 581.92,164.22" fill="#000" fill-opacity="0.45"/>
<polygon points="579.25,148.82 576.11,152.44 579.74,159.55 587.29,162.14 590.43,158.53" fill="#0a0aff"/>
<polygon points="579.25,148.82 576.11,152.44 577.63,155.42 581.59,150.86" fill="#fff" fill-opacity="0.47"/>
<polygon points="584.54,161.19 587.29,162.14 590.43,158.53 588.39,156.76" fill="#000" fill-opacity="0.45"/>
<polygon points="584.79,142.46 581.48,146.26 585.10,153.37 592.65,155.97 595.95,152.18" fill="#0a0aff"/>
<polygon points="584.79,142.46 581.48,146.26 583.00,149.24 587.13,144.50" fill="#fff" fill-opacity="0.47"/>
<polygon points="589.90,155.02 592.65,155.97 595.95,152.18 593.91,150.41" fill="#000" fill-opacity="0.45"/>
<polygon points="590.93,135.43 590.66,135.74 594.26,142.87 601.80,145.48 602.07,145.18" fill="#0a0aff"/>
<polygon points="590.93,135.43 590.66,135.74 592.17,138.72 593.26,137.47" fill="#fff" fill-opacity="0.47"/>
<polygon points="599.05,144.53 601.80,145.48 602.07,145.18 600.03,143.40" fill="#000" fill-opacity="0.45"/>
<polygon points="592.96,133.11 592.64,133.48 596.23,140.61 603.77,143.23 604.09,142.87" fill="#0a0aff"/>
<polygon points="592.96,133.11 592.64,133.48 594.14,136.47 595.29,135.15" fill="#fff" fill-opacity="0.47"/>
<polygon points="601.02,142.27 603.77,143.23 604.09,142.87 602.06,141.09" fill="#000" fill-opacity="0.45"/>
<polygon points="618.32,104.41 616.32,106.66 619.86,113.81 627.38,116.49 629.37,114.26" fill="#0a0aff"/>
<polygon points="618.32,104.41 616.32,106.66 617.80,109.65 620.63,106.47" fill="#fff" fill-opacity="0.47"/>
<polygon points="624.64,115.51 627.38,116.49 629.37,114.26 627.35,112.46" fill="#000" fill-opacity="0.45"/>
<polygon points="638.15,82.30 636.19,84.47 639.68,91.65 647.18,94.38 649.13,92.21" fill="#0a0aff"/>
<polygon points="638.15,82.30 636.19,84.47 637.65,87.48 640.45,84.37" fill="#fff" fill-opacity="0.47"/>
<polygon points="644.44,93.38 647.18,94.38 649.13,92.21 647.13,90.40" fill="#000" fill-opacity="0.45"/>
<polygon points="652.26,66.73 646.14,73.46 649.62,80.64 657.11,83.40 663.20,76.69" fill="#0a0aff"/>
<polygon points="652.26,66.73 646.14,73.46 647.60,76.47 654.55,68.81" fill="#fff" fill-opacity="0.47"/>
<polygon points="654.37,82.39 657.11,83.40 663.20,76.69 661.21,74.87" fill="#000" fill-opacity="0.45"/>
<polygon points="655.54,63.13 654.72,64.03 658.17,71.23 665.65,74.00 666.47,73.10" fill="#0a0aff"/>
<polygon points="655.54,63.13 654.72,64.03 656.16,67.05 657.83,65.22" fill="#fff" fill-opacity="0.47"/>
<polygon points="662.92,72.99 665.65,74.00 666.47,73.10 664.48,71.28" fill="#000" fill-opacity="0.45"/>
<polygon points="669.52,47.87 662.98,54.99 666.42,62.20 673.89,64.99 680.41,57.90" fill="#0a0aff"/>
<polygon points="669.52,47.87 662.98,54.99 664.42,58.01 671.80,49.97" fill="#fff" fill-opacity="0.47"/>
<polygon points="671.16,63.97 673.89,64.99 680.41,57.90 678.42,56.07" fill="#000" fill-opacity="0.45"/>
<polygon points="674.14,42.86 671.44,45.79 674.85,53.00 682.32,55.82 685.01,52.90" fill="#0a0aff"/>
<polygon points="674.14,42.86 671.44,45.79 672.87,48.81 676.41,44.96" fill="#fff" fill-opacity="0.47"/>
<polygon points="679.60,54.79 682.32,55.82 685.01,52.90 683.03,51.07" fill="#000" fill-opacity="0.45"/>
<polygon points="680.47,36.01 676.72,40.06 680.12,47.29 687.59,50.11 691.33,46.07" fill="#0a0aff"/>
<polygon points="680.47,36.01 676.72,40.06 678.15,43.09 682.75,38.12" fill="#fff" fill-opacity="0.47"/>
<polygon points="684.87,49.08 687.59,50.11 691.33,46.07 689.35,44.24" fill="#000" fill-opacity="0.45"/>
<polygon points="712.92,1.36 708.57,5.96 711.90,13.22 719.33,16.12 723.67,11.53" fill="#0a0aff"/>
<polygon points="712.92,1.36 708.57,5.96 709.96,9.00 715.17,3.49" fill="#fff" fill-opacity="0.47"/>
<polygon points="716.62,15.06 719.33,16.12 723.67,11.53 721.71,9.67" fill="#000" fill-opacity="0.45"/>
<polygon points="735.07,-21.91 726.30,-12.73 717.54,-3.53 720.85,3.74 728.28,6.66 737.01,-2.52 745.76,-11.67" fill="#0a0aff"/>
<polygon points="735.07,-21.91 726.30,-12.73 717.54,-3.53 718.93,-0.48 728.11,-10.14 737.31,-19.76" fill="#fff" fill-opacity="0.47"/>
<polygon points="725.57,5.59 728.28,6.66 737.01,-2.52 745.76,-11.67 743.81,-13.54 734.68,-3.98" fill="#000" fill-opacity="0.45"/>
<line x1="622.8" y1="13.3" x2="662.5" y2="13.0" stroke="#ff0000" stroke-width="0.9" stroke-opacity="0.85"/>
<line x1="608.3" y1="29.7" x2="637.5" y2="41.3" stroke="#ff0000" stroke-width="0.9" stroke-opacity="0.85"/>
<line x1="594.7" y1="44.7" x2="620.8" y2="60.3" stroke="#ff0000" stroke-width="0.9" stroke-opacity="0.85"/>
<line x1="581.3" y1="58.3" x2="607.5" y2="74.2" stroke="#ff0000" stroke-width="0.9" stroke-opacity="0.85"/>
<line x1="569.2" y1="73.0" x2="600.0" y2="82.5" stroke="#ff0000" stroke-width="0.9" stroke-opacity="0.85"/>
<line x1="553.3" y1="90.7" x2="586.2" y2="97.8" stroke="#ff0000" stroke-width="0.9" stroke-opacity="0.85"/>
<line x1="541.1" y1="104.0" x2="577.8" y2="108.2" stroke="#ff0000" stroke-width="0.9" stroke-opacity="0.85"/>
<line x1="528.4" y1="119.3" x2="574.4" y2="112.2" stroke="#ff0000" stroke-width="0.9" stroke-opacity="0.85"/>
<line x1="516.2" y1="132.9" x2="528.4" y2="164.4" stroke="#ff0000" stroke-width="0.9" stroke-opacity="0.85"/>
<line x1="502.7" y1="148.9" x2="522.9" y2="172.2" stroke="#ff0000" stroke-width="0.9" stroke-opacity="0.85"/>
<line x1="491.1" y1="162.2" x2="518.2" y2="177.3" stroke="#ff0000" stroke-width="0.9" stroke-opacity="0.85"/>
<line x1="478.4" y1="176.7" x2="515.6" y2="180.7" stroke="#ff0000" stroke-width="0.9" stroke-opacity="0.85"/>
<line x1="465.6" y1="192.9" x2="509.3" y2="187.1" stroke="#ff0000" stroke-width="0.9" stroke-opacity="0.85"/>
<line x1="454.0" y1="207.8" x2="502.2" y2="195.1" stroke="#ff0000" stroke-width="0.9" stroke-opacity="0.85"/>
<line x1="441.1" y1="223.3" x2="480.0" y2="223.3" stroke="#ff0000" stroke-width="0.9" stroke-opacity="0.85"/>
<line x1="428.9" y1="238.4" x2="470.4" y2="234.0" stroke="#ff0000" stroke-width="0.9" stroke-opacity="0.85"/>
<line x1="417.3" y1="252.8" x2="462.9" y2="243.4" stroke="#ff0000" stroke-width="0.9" stroke-opacity="0.85"/>
<line x1="405.1" y1="268.3" x2="436.7" y2="276.6" stroke="#ff0000" stroke-width="0.9" stroke-opacity="0.85"/>
<line x1="395.1" y1="280.1" x2="431.8" y2="282.1" stroke="#ff0000" stroke-width="0.9" stroke-opacity="0.85"/>
<line x1="383.3" y1="296.1" x2="428.2" y2="286.8" stroke="#ff0000" stroke-width="0.9" stroke-opacity="0.85"/>
<line x1="371.6" y1="310.6" x2="428.2" y2="287.9" stroke="#ff0000" stroke-width="0.9" stroke-opacity="0.85"/>
<line x1="360.0" y1="325.4" x2="418.9" y2="298.3" stroke="#ff0000" stroke-width="0.9" stroke-opacity="0.85"/>
<line x1="318.3" y1="380.0" x2="342.8" y2="398.0" stroke="#ff0000" stroke-width="0.9" stroke-opacity="0.85"/>
<line x1="248.2" y1="476.3" x2="243.3" y2="535.3" stroke="#0000ff" stroke-width="0.9" stroke-opacity="0.85"/>
<line x1="238.5" y1="490.8" x2="223.3" y2="563.3" stroke="#ff0000" stroke-width="0.9" stroke-opacity="0.85"/>
<line x1="227.6" y1="506.2" x2="219.3" y2="569.6" stroke="#ff0000" stroke-width="0.9" stroke-opacity="0.85"/>
<line x1="217.2" y1="521.5" x2="213.3" y2="578.4" stroke="#ff0000" stroke-width="0.9" stroke-opacity="0.85"/>
<line x1="206.4" y1="536.3" x2="206.4" y2="588.7" stroke="#0000ff" stroke-width="0.9" stroke-opacity="0.85"/>
<line x1="197.3" y1="549.6" x2="202.0" y2="594.9" stroke="#ff0000" stroke-width="0.9" stroke-opacity="0.85"/>
<line x1="184.4" y1="567.7" x2="200.9" y2="598.4" stroke="#ff0000" stroke-width="0.9" stroke-opacity="0.85"/>
<line x1="735.6" y1="9.3" x2="761.1" y2="30.0" stroke="#0000ff" stroke-width="0.9" stroke-opacity="0.85"/>
<line x1="725.6" y1="20.4" x2="747.1" y2="45.1" stroke="#0000ff" stroke-width="0.9" stroke-opacity="0.85"/>
<line x1="693.3" y1="54.0" x2="733.3" y2="58.9" stroke="#0000ff" stroke-width="0.9" stroke-opacity="0.85"/>
<line x1="687.8" y1="60.0" x2="721.1" y2="72.2" stroke="#0000ff" stroke-width="0.9" stroke-opacity="0.85"/>
<line x1="680.7" y1="67.8" x2="705.1" y2="88.9" stroke="#0000ff" stroke-width="0.9" stroke-opacity="0.85"/>
<line x1="664.4" y1="85.6" x2="683.8" y2="113.3" stroke="#0000ff" stroke-width="0.9" stroke-opacity="0.85"/>
<line x1="670.4" y1="78.9" x2="722.7" y2="126.7" stroke="#0000ff" stroke-width="0.9" stroke-opacity="0.85"/>
<line x1="652.2" y1="98.9" x2="668.9" y2="128.9" stroke="#0000ff" stroke-width="0.9" stroke-opacity="0.85"/>
<line x1="632.9" y1="121.6" x2="657.1" y2="142.7" stroke="#0000ff" stroke-width="0.9" stroke-opacity="0.85"/>
<line x1="608.4" y1="149.3" x2="643.8" y2="158.2" stroke="#0000ff" stroke-width="0.9" stroke-opacity="0.85"/>
<line x1="606.2" y1="151.6" x2="633.3" y2="171.6" stroke="#0000ff" stroke-width="0.9" stroke-opacity="0.85"/>
<line x1="598.9" y1="160.4" x2="620.0" y2="185.6" stroke="#0000ff" stroke-width="0.9" stroke-opacity="0.85"/>
<line x1="593.3" y1="166.2" x2="607.3" y2="200.4" stroke="#0000ff" stroke-width="0.9" stroke-opacity="0.85"/>
<line x1="585.1" y1="176.7" x2="592.9" y2="216.7" stroke="#0000ff" stroke-width="0.9" stroke-opacity="0.85"/>
<line x1="578.9" y1="183.3" x2="581.6" y2="231.1" stroke="#0000ff" stroke-width="0.9" stroke-opacity="0.85"/>
<line x1="572.7" y1="191.1" x2="567.8" y2="246.7" stroke="#0000ff" stroke-width="0.9" stroke-opacity="0.85"/>
<line x1="528.2" y1="243.3" x2="554.9" y2="262.2" stroke="#0000ff" stroke-width="0.9" stroke-opacity="0.85"/>
<line x1="516.0" y1="258.2" x2="542.2" y2="277.8" stroke="#0000ff" stroke-width="0.9" stroke-opacity="0.85"/>
<line x1="493.3" y1="287.1" x2="530.0" y2="292.7" stroke="#0000ff" stroke-width="0.9" stroke-opacity="0.85"/>
<line x1="485.6" y1="296.1" x2="516.7" y2="308.1" stroke="#0000ff" stroke-width="0.9" stroke-opacity="0.85"/>
<line x1="483.3" y1="298.4" x2="505.6" y2="323.3" stroke="#0000ff" stroke-width="0.9" stroke-opacity="0.85"/>
<line x1="481.1" y1="301.1" x2="493.3" y2="338.4" stroke="#0000ff" stroke-width="0.9" stroke-opacity="0.85"/>
<line x1="478.2" y1="304.4" x2="480.0" y2="354.4" stroke="#0000ff" stroke-width="0.9" stroke-opacity="0.85"/>
<line x1="462.9" y1="323.8" x2="468.2" y2="368.9" stroke="#0000ff" stroke-width="0.9" stroke-opacity="0.85"/>
<line x1="460.0" y1="328.2" x2="457.8" y2="383.3" stroke="#0000ff" stroke-width="0.9" stroke-opacity="0.85"/>
<line x1="455.6" y1="333.3" x2="445.6" y2="398.9" stroke="#0000ff" stroke-width="0.9" stroke-opacity="0.85"/>
<line x1="453.3" y1="336.7" x2="434.0" y2="414.0" stroke="#0000ff" stroke-width="0.9" stroke-opacity="0.85"/>
<line x1="451.1" y1="340.0" x2="422.2" y2="428.9" stroke="#0000ff" stroke-width="0.9" stroke-opacity="0.85"/>
<line x1="419.6" y1="379.3" x2="410.0" y2="445.6" stroke="#0000ff" stroke-width="0.9" stroke-opacity="0.85"/>
<line x1="386.0" y1="423.3" x2="401.1" y2="458.4" stroke="#0000ff" stroke-width="0.9" stroke-opacity="0.85"/>
<line x1="356.0" y1="464.0" x2="381.6" y2="482.7" stroke="#0000ff" stroke-width="0.9" stroke-opacity="0.85"/>
<line x1="331.6" y1="497.3" x2="358.2" y2="516.7" stroke="#0000ff" stroke-width="0.9" stroke-opacity="0.85"/>
<line x1="318.2" y1="516.0" x2="344.9" y2="535.6" stroke="#0000ff" stroke-width="0.9" stroke-opacity="0.85"/>
<line x1="304.9" y1="535.1" x2="331.1" y2="554.4" stroke="#0000ff" stroke-width="0.9" stroke-opacity="0.85"/>
<g font-family="'Liberation Sans', sans-serif" font-size="10px">
<text x="548.8" y="13.1" fill="#ff0000" textLength="70.2" lengthAdjust="spacing">MTCTRI2_3471</text>
<text x="536.1" y="29.2" fill="#ff0000" textLength="70.2" lengthAdjust="spacing">MTCTRI2_3467</text>
<text x="571.6" y="44.1" fill="#ff0000" textLength="20.6" lengthAdjust="spacing">iunH</text>
<text x="552.7" y="58.2" fill="#ff0000" textLength="25.5" lengthAdjust="spacing">acrA1</text>
<text x="545.6" y="74.2" fill="#ff0000" textLength="20.6" lengthAdjust="spacing">lpqD</text>
<text x="501.8" y="90.0" fill="#ff0000" textLength="50.9" lengthAdjust="spacingAndGlyphs">PE_PGRS52</text>
<text x="469.1" y="104.4" fill="#ff0000" textLength="70.2" lengthAdjust="spacing">MTCTRI2_3458</text>
<text x="456.0" y="119.3" fill="#ff0000" textLength="70.2" lengthAdjust="spacing">MTCTRI2_3457</text>
<text x="444.0" y="132.9" fill="#ff0000" textLength="70.2" lengthAdjust="spacing">MTCTRI2_3449</text>
<text x="476.4" y="147.7" fill="#ff0000" textLength="24.0" lengthAdjust="spacing">amiD</text>
<text x="445.8" y="161.5" fill="#ff0000" textLength="42.4" lengthAdjust="spacing">echA18.1</text>
<text x="441.8" y="176.6" fill="#ff0000" textLength="34.4" lengthAdjust="spacing">echA18</text>
<text x="437.8" y="192.6" fill="#ff0000" textLength="25.5" lengthAdjust="spacing">otsB2</text>
<text x="380.5" y="207.7" fill="#ff0000" textLength="70.2" lengthAdjust="spacing">MTCTRI2_3444</text>
<text x="368.7" y="222.6" fill="#ff0000" textLength="70.2" lengthAdjust="spacing">MTCTRI2_3442</text>
<text x="375.6" y="237.6" fill="#ff0000" textLength="49.4" lengthAdjust="spacingAndGlyphs">PE_PGRS51</text>
<text x="392.9" y="252.5" fill="#ff0000" textLength="22.2" lengthAdjust="spacingAndGlyphs">spoU</text>
<text x="333.1" y="267.6" fill="#ff0000" textLength="70.2" lengthAdjust="spacing">MTCTRI2_3433</text>
<text x="322.7" y="279.8" fill="#ff0000" textLength="70.2" lengthAdjust="spacing">MTCTRI2_3432</text>
<text x="309.8" y="296.1" fill="#ff0000" textLength="70.2" lengthAdjust="spacing">MTCTRI2_3431</text>
<text x="298.7" y="311.0" fill="#ff0000" textLength="70.2" lengthAdjust="spacing">MTCTRI2_3430</text>
<text x="286.5" y="324.7" fill="#ff0000" textLength="70.2" lengthAdjust="spacing">MTCTRI2_3427</text>
<text x="244.8" y="380.1" fill="#ff0000" textLength="70.2" lengthAdjust="spacing">MTCTRI2_3421</text>
<text x="218.4" y="474.7" fill="#0000ff" textLength="27.8" lengthAdjust="spacingAndGlyphs">PPE54</text>
<text x="166.4" y="489.7" fill="#ff0000" textLength="70.2" lengthAdjust="spacing">MTCTRI2_3415</text>
<text x="201.5" y="504.9" fill="#ff0000" textLength="23.7" lengthAdjust="spacing">metX</text>
<text x="190.6" y="521.1" fill="#ff0000" textLength="24.7" lengthAdjust="spacing">metC</text>
<text x="185.8" y="535.6" fill="#0000ff" textLength="17.6" lengthAdjust="spacingAndGlyphs">icd1</text>
<text x="124.1" y="549.7" fill="#ff0000" textLength="70.2" lengthAdjust="spacing">MTCTRI2_3411</text>
<text x="112.0" y="567.8" fill="#ff0000" textLength="70.2" lengthAdjust="spacing">MTCTRI2_3410</text>
<text x="762.7" y="33.1" fill="#0000ff" textLength="70.2" lengthAdjust="spacing">MTCTRI2_3475</text>
<text x="748.4" y="47.1" fill="#0000ff" textLength="70.2" lengthAdjust="spacing">MTCTRI2_3474</text>
<text x="735.6" y="60.8" fill="#0000ff" textLength="24.4" lengthAdjust="spacing">idsA1</text>
<text x="722.7" y="76.0" fill="#0000ff" textLength="22.9" lengthAdjust="spacing">phyA</text>
<text x="706.7" y="92.6" fill="#0000ff" textLength="24.0" lengthAdjust="spacing">guaA</text>
<text x="684.9" y="117.1" fill="#0000ff" textLength="70.2" lengthAdjust="spacing">MTCTRI2_3465</text>
<text x="724.9" y="130.0" fill="#0000ff" textLength="70.2" lengthAdjust="spacing">MTCTRI2_3466</text>
<text x="670.5" y="131.5" fill="#0000ff" textLength="30.4" lengthAdjust="spacing">cmaA1</text>
<text x="658.4" y="145.5" fill="#0000ff" textLength="70.2" lengthAdjust="spacing">MTCTRI2_3460</text>
<text x="645.1" y="160.8" fill="#0000ff" textLength="70.2" lengthAdjust="spacing">MTCTRI2_3456</text>
<text x="634.9" y="173.1" fill="#0000ff" textLength="70.2" lengthAdjust="spacing">MTCTRI2_3455</text>
<text x="621.8" y="187.5" fill="#0000ff" textLength="18.2" lengthAdjust="spacingAndGlyphs">idsB</text>
<text x="608.9" y="202.6" fill="#0000ff" textLength="21.1" lengthAdjust="spacingAndGlyphs">lytB1</text>
<text x="594.9" y="219.7" fill="#0000ff" textLength="21.3" lengthAdjust="spacing">dxs2</text>
<text x="582.8" y="233.5" fill="#0000ff" textLength="70.2" lengthAdjust="spacing">MTCTRI2_3451</text>
<text x="570.0" y="248.8" fill="#0000ff" textLength="70.2" lengthAdjust="spacing">MTCTRI2_3450</text>
<text x="557.1" y="263.7" fill="#0000ff" textLength="26.9" lengthAdjust="spacingAndGlyphs">dnaE2</text>
<text x="544.0" y="279.7" fill="#0000ff" textLength="70.2" lengthAdjust="spacing">MTCTRI2_3441</text>
<text x="531.8" y="294.8" fill="#0000ff" textLength="70.2" lengthAdjust="spacing">MTCTRI2_3438</text>
<text x="518.9" y="310.6" fill="#0000ff" textLength="70.2" lengthAdjust="spacing">MTCTRI2_3437</text>
<text x="507.1" y="326.0" fill="#0000ff" textLength="70.2" lengthAdjust="spacing">MTCTRI2_3436</text>
<text x="494.9" y="341.1" fill="#0000ff" textLength="70.2" lengthAdjust="spacing">MTCTRI2_3435</text>
<text x="482.2" y="356.6" fill="#0000ff" textLength="70.2" lengthAdjust="spacing">MTCTRI2_3434</text>
<text x="469.6" y="371.5" fill="#0000ff" textLength="18.6" lengthAdjust="spacing">folD</text>
<text x="458.4" y="386.0" fill="#0000ff" textLength="70.2" lengthAdjust="spacing">MTCTRI2_3428</text>
<text x="446.7" y="401.5" fill="#0000ff" textLength="70.2" lengthAdjust="spacing">MTCTRI2_3426</text>
<text x="434.4" y="416.6" fill="#0000ff" textLength="70.2" lengthAdjust="spacing">MTCTRI2_3425</text>
<text x="423.8" y="431.5" fill="#0000ff" textLength="70.2" lengthAdjust="spacing">MTCTRI2_3424</text>
<text x="412.2" y="447.1" fill="#0000ff" textLength="26.7" lengthAdjust="spacingAndGlyphs">PPE56</text>
<text x="402.7" y="460.4" fill="#0000ff" textLength="70.2" lengthAdjust="spacing">MTCTRI2_3422</text>
<text x="384.0" y="484.8" fill="#0000ff" textLength="27.1" lengthAdjust="spacingAndGlyphs">PPE55</text>
<text x="360.0" y="518.8" fill="#0000ff" textLength="70.2" lengthAdjust="spacing">MTCTRI2_3419</text>
<text x="347.1" y="536.4" fill="#0000ff" textLength="50.2" lengthAdjust="spacingAndGlyphs">PE_PGRS50</text>
<text x="332.2" y="556.6" fill="#0000ff" textLength="70.2" lengthAdjust="spacing">MTCTRI2_3417</text>
</g>
<rect x="839.2" y="10" width="10.8" height="10.4" fill="#ff0000"/>
<rect x="839.2" y="25.7" width="10.8" height="10.4" fill="#0000ff"/>
<g font-family="'Liberation Sans', sans-serif" font-size="9px" fill="#000" stroke="#000" stroke-width="0.1">
<text x="855.6" y="18.9" textLength="35.8" lengthAdjust="spacing">Forward</text>
<text x="855.6" y="33.8" textLength="33.7" lengthAdjust="spacing">Reverse</text>
</g>
<rect x="289" y="580.3" width="323" height="13" fill="#fff"/>
<text x="291.6" y="587.6" font-family="'Liberation Sans', sans-serif" font-size="9px" fill="#000" stroke="#000" stroke-width="0.12" textLength="317.2" lengthAdjust="spacing">Mycobacterium tuberculosis CTRI-2, complete genome. - 0..4398525</text>
</svg>
</body></html>
